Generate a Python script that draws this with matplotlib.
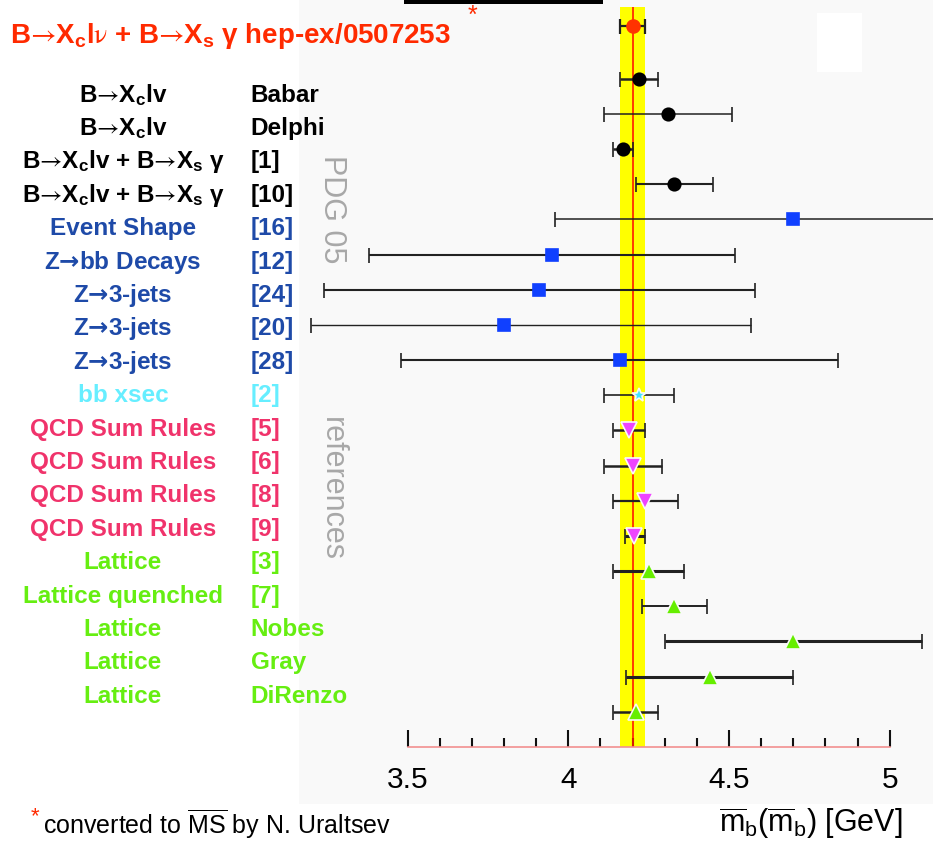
import numpy as np
import matplotlib.pyplot as plt
from matplotlib.patches import Rectangle
from matplotlib.ticker import FixedLocator, FuncFormatter

plt.rcParams['font.family'] = ['Liberation Sans', 'DejaVu Sans']
plt.rcParams['mathtext.fontset'] = 'custom'
plt.rcParams['mathtext.rm'] = 'Liberation Sans'
plt.rcParams['mathtext.it'] = 'Liberation Sans:italic'
plt.rcParams['mathtext.bf'] = 'Liberation Sans:bold'
# arrows: thin symbol-style one from \mathsf, heavy one from \mathtt
plt.rcParams['mathtext.sf'] = 'STIXGeneral'
plt.rcParams['mathtext.tt'] = 'DejaVu Sans:bold'

# combined fit, hep-ex/0507253
avg_value = 4.20
avg_err = 0.04

ARR = r'$\mathsf{→}$'
ZARR = r'$\mathtt{→}$'
XC = r'X$_\mathbf{c}$'
XS = r'X$_\mathbf{s}$'

methods = [
    f'B{ARR}{XC}lv', f'B{ARR}{XC}lv',
    f'B{ARR}{XC}lv + B{ARR}{XS} γ', f'B{ARR}{XC}lv + B{ARR}{XS} γ',
    'Event Shape', f'Z{ZARR}bb Decays', f'Z{ZARR}3-jets', f'Z{ZARR}3-jets', f'Z{ZARR}3-jets',
    'bb xsec',
    'QCD Sum Rules', 'QCD Sum Rules', 'QCD Sum Rules', 'QCD Sum Rules',
    'Lattice', 'Lattice quenched', 'Lattice', 'Lattice', 'Lattice',
]
refs = [
    'Babar', 'Delphi', '[1]', '[10]',
    '[16]', '[12]', '[24]', '[20]', '[28]',
    '[2]',
    '[5]', '[6]', '[8]', '[9]',
    '[3]', '[7]', 'Nobes', 'Gray', 'DiRenzo',
]
groups = ['moments'] * 4 + ['shape'] * 5 + ['xsec'] + ['sumrules'] * 4 + ['lattice'] * 5

values = [4.22, 4.31, 4.17, 4.33,
          4.70, 3.95, 3.91, 3.80, 4.16,
          4.22,
          4.19, 4.20, 4.24, 4.205,
          4.25, 4.33, 4.70, 4.44, 4.21]
lower = [4.16, 4.11, 4.14, 4.21,
         3.96, 3.38, 3.24, 3.20, 3.48,
         4.11,
         4.14, 4.11, 4.14, 4.175,
         4.14, 4.23, 4.30, 4.18, 4.14]
upper = [4.28, 4.51, 4.20, 4.45,
         5.44, 4.52, 4.58, 4.57, 4.84,
         4.33,
         4.24, 4.29, 4.34, 4.24,
         4.36, 4.43, 5.10, 4.70, 4.28]

group_style = {
    'moments':  dict(text='black',   marker='o', face='black',   ms=9.0),
    'shape':    dict(text='#1e4aa8', marker='s', face='#1040ff', ms=8.4),
    'xsec':     dict(text='#66eeff', marker='*', face='#44e4ff', ms=10),
    'sumrules': dict(text='#f0336b', marker='v', face='#ee44ff', ms=11.5),
    'lattice':  dict(text='#66ee11', marker='^', face='#66ee00', ms=11.5),
}
bar_widths = [1.8, 1.1, 1.8, 1.5, 1.1, 1.5, 1.5, 1.0, 1.5, 1.2,
              1.8, 1.8, 1.6, 2.2, 2.2, 1.4, 2.2, 2.2, 1.8]

W, H = 933, 844


def fx(px):
    return px / W


def fy(py):
    return 1 - py / H


# pixel -> data helpers for the panel
x0_px, x_scale = 407.7, 321.3
y0_px, y_scale = 78.7, 35.17


def xdata(px):
    return 3.5 + (px - x0_px) / x_scale


def ydata(py):
    return (py - y0_px) / y_scale


fig = plt.figure(figsize=(W / 100, H / 100), dpi=100)
fig.patch.set_facecolor('white')

ax = fig.add_axes([fx(299), fy(804), (W - 299) / W, 804 / H])
ax.set_facecolor('#f9f9f9')
ax.set_xlim(xdata(299), xdata(W))
ax.set_ylim(ydata(804), ydata(0))

n = len(values)
rows = np.arange(n)
title_row = -1.5
axis_row = n
band_top = ydata(7)

ax.fill_betweenx([band_top, axis_row], avg_value - avg_err, avg_value + avg_err,
                 color='#ffff00', lw=0, zorder=1)
ax.vlines(avg_value, band_top, axis_row, color='#ff1a00', lw=1.2, zorder=2)

ax.errorbar(avg_value, title_row, xerr=avg_err, fmt='o', ms=9.5,
            mfc='#ff3300', mec='#ff3300', ecolor='#222222', elinewidth=1.6,
            capsize=5.4, capthick=1.6, zorder=4)

for i in range(n):
    st = group_style[groups[i]]
    v = values[i]
    edge = st['face'] if st['marker'] in ('o', 's') else '#f9f9f9'
    ax.errorbar(v, rows[i], xerr=[[v - lower[i]], [upper[i] - v]],
                fmt=st['marker'], ms=st['ms'], mfc=st['face'], mec=edge,
                mew=1.2, ecolor='#222222', elinewidth=bar_widths[i],
                capsize=5.4, capthick=bar_widths[i], zorder=4, clip_on=True)

for side in ('top', 'left', 'right'):
    ax.spines[side].set_visible(False)
ax.spines['bottom'].set_position(('data', axis_row))
ax.spines['bottom'].set_bounds(3.5, 5.0)
ax.spines['bottom'].set_color('#f29090')
ax.spines['bottom'].set_linewidth(1.2)

ax.set_yticks([])
ax.xaxis.set_major_locator(FixedLocator([3.5, 4.0, 4.5, 5.0]))
ax.xaxis.set_minor_locator(FixedLocator(np.arange(3.6, 5.0, 0.1)))
ax.xaxis.set_major_formatter(FuncFormatter(lambda v, p: f'{v:g}'))
ax.tick_params(axis='x', which='major', direction='in', length=12, width=1.5,
               color='#111111', labelsize=21.5, pad=14)
ax.tick_params(axis='x', which='minor', direction='in', length=6.5, width=1.5,
               color='#111111')

# row labels
for i in range(n):
    st = group_style[groups[i]]
    base = 101.7 + i * 33.39
    fig.text(fx(123), fy(base), methods[i], ha='center', va='baseline',
             fontsize=17.5, fontweight='bold', color=st['text'])
    fig.text(fx(250.7), fy(base), refs[i], ha='left', va='baseline',
             fontsize=17.5, fontweight='bold', color=st['text'])

fig.text(fx(10), fy(43.3), f'B{ARR}{XC}l$\\mathsf{{ν}}$ + B{ARR}{XS} γ hep-ex/0507253',
         ha='left', va='baseline', fontsize=20, fontweight='bold', color='#ff2a00')
fig.text(fx(472), fy(16), '*', ha='center', va='center', fontsize=18, color='#ff2a00')

fig.text(fx(332.3), fy(208.7), 'PDG 05', rotation=-90, ha='center', va='center',
         fontsize=22, color='#a8a8a8')
fig.text(fx(332.3), fy(489.3), 'references', rotation=-90, ha='center', va='center',
         fontsize=22, color='#a8a8a8')

fig.add_artist(Rectangle((fx(404), fy(4)), (603 - 404) / W, 4 / H,
                         transform=fig.transFigure, color='black', lw=0))
fig.add_artist(Rectangle((fx(817), fy(72)), 45 / W, 59 / H,
                         transform=fig.transFigure, color='white', lw=0))

fig.text(fx(35), fy(817), '*', ha='center', va='center', fontsize=16, color='#ff2a00')
fig.text(fx(43), fy(834), r'converted to $\overline{\mathrm{MS}}$ by N. Uraltsev',
         ha='left', va='baseline', fontsize=18, color='black')
fig.text(fx(719), fy(832), r'$\overline{\mathrm{m}}_\mathrm{b}(\overline{\mathrm{m}}_\mathrm{b})$ [GeV]',
         ha='left', va='baseline', fontsize=22, color='black')

fig.savefig('out.png', dpi=100)
